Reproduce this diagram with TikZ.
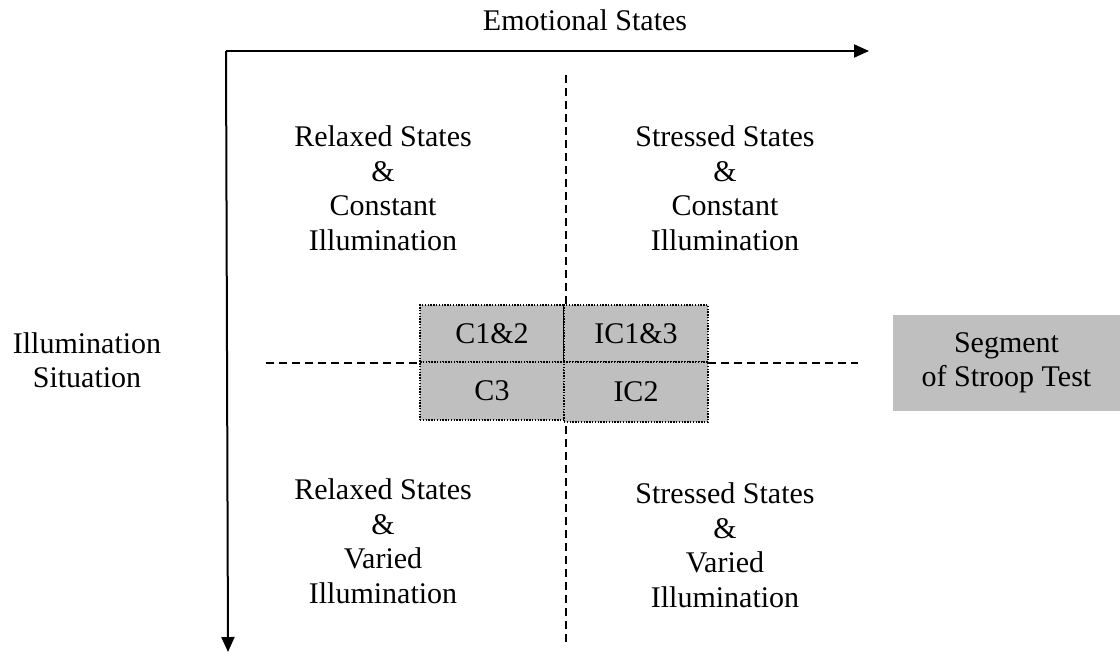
\documentclass[tikz,border=0pt]{standalone}
\usepackage{fontspec}
\setmainfont{Liberation Serif}
\usepackage{tikz}
\usetikzlibrary{arrows.meta, positioning}

\begin{document}
\begin{tikzpicture}[
  x=1pt, y=-1pt,
  %--- style definitions ---
  label/.style     = {align=center, inner sep=0pt, font=\fontsize{30}{34.5}\selectfont},
  cell/.style      = {rectangle, draw=black, fill=black!25, line width=1.4pt,
                      dash pattern=on 1.4pt off 1.4pt, minimum width=144pt,
                      minimum height=#1, inner sep=0pt,
                      font=\fontsize{30}{34.5}\selectfont},
  segbox/.style    = {rectangle, fill=black!25, minimum width=227pt,
                      minimum height=96pt, align=center, inner sep=0pt,
                      font=\fontsize{30}{34.5}\selectfont},
  axis/.style      = {-{Triangle[length=15pt,width=13pt]}, line width=2pt},
  divider/.style   = {line width=1.5pt, dash pattern=on 8pt off 5pt},
]
\useasboundingbox (0,0) rectangle (1120,654);

%% ── AXES ──────────────────────────────────────────────────────────────────
\coordinate (origin) at (226,51);
\coordinate (xend)   at (869,51);
\coordinate (yend)   at (228,652);
\draw[axis] (origin) -- (xend);
\draw[axis] (origin) -- (yend);

\node[label] (emo) at (585,20) {Emotional States};
\node[label] (ill) at (87,360) {Illumination\\Situation};

%% ── DIVIDERS ──────────────────────────────────────────────────────────────
\coordinate (vtop) at (566,75);
\coordinate (vbot) at (566,642);
\coordinate (hlft) at (266,363);
\coordinate (hrgt) at (858,363);
\draw[divider] (vtop) -- (vbot);
\draw[divider] (hlft) -- (hrgt);

%% ── QUADRANTS ─────────────────────────────────────────────────────────────
\node[label] (rc) at (383,188) {Relaxed States\\\&\\Constant\\Illumination};
\node[label] (sc) at (725,188) {Stressed States\\\&\\Constant\\Illumination};
\node[label] (rv) at (383,541) {Relaxed States\\\&\\Varied\\Illumination};
\node[label] (sv) at (725,545) {Stressed States\\\&\\Varied\\Illumination};

%% ── STROOP SEGMENTS ───────────────────────────────────────────────────────
\node[cell=57pt] (c12)  at (492,333.5) {C1\&2};
\node[cell=57pt] (ic13) at (636,333.5) {IC1\&3};
\node[cell=58pt] (c3)   at (492,391)   {C3};
\node[cell=60pt] (ic2)  at (636,392)   {IC2};

\node[segbox] (seg) at (1006.5,363) {Segment\\of Stroop Test};

\end{tikzpicture}
\end{document}
